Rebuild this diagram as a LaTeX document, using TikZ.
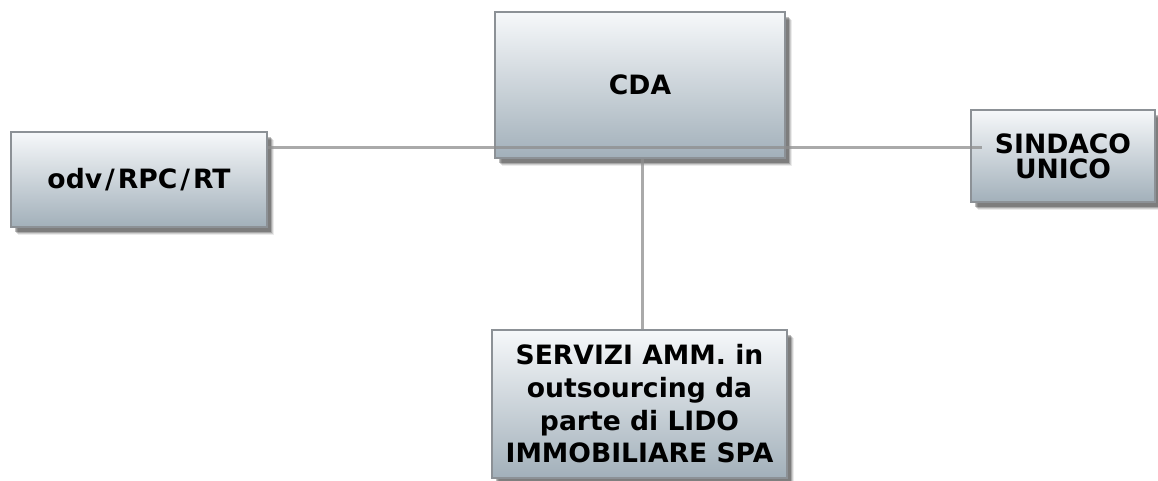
\documentclass[tikz,border=0pt]{standalone}
\usepackage{fontspec}
\setmainfont{DejaVu Sans}
\usetikzlibrary{shadows}
\definecolor{boxtop}{HTML}{F6F8FA}
\definecolor{boxbot}{HTML}{A2B0BA}
\definecolor{boxline}{HTML}{8C9196}
\definecolor{conncol}{HTML}{8E8E8E}
\begin{document}
\begin{tikzpicture}[x=1pt,y=-1pt,
  orgbox/.style={draw=boxline, line width=1.2pt, top color=boxtop, bottom color=boxbot,
    drop shadow={shadow xshift=7pt, shadow yshift=-8pt, fill=black, opacity=0.08},
    drop shadow={shadow xshift=6pt, shadow yshift=-7pt, fill=black, opacity=0.12},
    drop shadow={shadow xshift=5pt, shadow yshift=-6pt, fill=black, opacity=0.18},
    drop shadow={shadow xshift=4pt, shadow yshift=-5pt, fill=black, opacity=0.25},
    align=center, inner sep=0pt},
  big/.style={font=\fontsize{26.6}{32.7}\selectfont\bfseries},
  tight/.style={font=\fontsize{26.6}{25}\selectfont\bfseries},
  conn/.style={draw=conncol, line width=3pt, opacity=0.75}]
\fill[white] (0,0) rectangle (1158,480);
\useasboundingbox (0,0) rectangle (1158,480);
\node[orgbox, big, minimum width=290pt, minimum height=146pt] (cda) at (640,85) {CDA};
\node[orgbox, big, minimum width=256pt, minimum height=95pt] (odv) at (139,179.5) {odv\kern3pt/\kern3pt RPC\kern3pt/\kern3pt RT};
\node[orgbox, tight, minimum width=184pt, minimum height=92pt] (sind) at (1063,156) {SINDACO\\UNICO};
\node[orgbox, big, minimum width=295pt, minimum height=148pt] (bot) at (639.5,404) {SERVIZI AMM. in\\outsourcing da\\parte di LIDO\\IMMOBILIARE SPA};
\coordinate (hl) at (0,147);
\draw[conn] (odv.east |- hl) -- ([xshift=12pt]sind.west |- hl);
\draw[conn] ([xshift=2pt]cda.south) -- ([xshift=2pt]cda.south |- bot.north);
\end{tikzpicture}
\end{document}
